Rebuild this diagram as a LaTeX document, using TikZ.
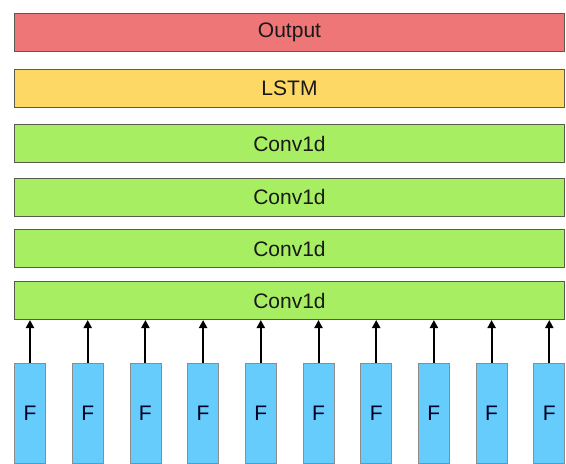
\documentclass[tikz,border=0pt]{standalone}
\usepackage{fontspec}
\setmainfont{Liberation Sans}
\usetikzlibrary{arrows.meta}
\definecolor{outred}{HTML}{EE7676}
\definecolor{lstmyel}{HTML}{FDD865}
\definecolor{convgrn}{HTML}{A8EE62}
\definecolor{fblue}{HTML}{66CCFB}
\definecolor{edgegray}{HTML}{5A5A4A}
\begin{document}
\begin{tikzpicture}[x=1pt,y=-1pt,
  layer/.style={draw=edgegray, line width=1pt, minimum width=550pt, minimum height=38pt, inner sep=0pt, font=\fontsize{21}{24}\selectfont, text=black!90},
  fbox/.style={draw=black!45, fill=fblue, line width=0.8pt, minimum width=31pt, minimum height=100pt, inner sep=0pt, font=\fontsize{21}{24}\selectfont, text=black!85!blue},
  arr/.style={-{Triangle[length=8pt,width=8pt]}, line width=2pt, black}]
\useasboundingbox (0,0) rectangle (566,464);
\node[layer, fill=outred] (out) at (289.5,32.5) {Output};
\node[layer, fill=lstmyel] (lstm) at (289.5,88.5) {LSTM};
\node[layer, fill=convgrn] (c1) at (289.5,143.5) {Conv1d};
\node[layer, fill=convgrn] (c2) at (289.5,197) {Conv1d};
\node[layer, fill=convgrn] (c3) at (289.5,248.5) {Conv1d};
\node[layer, fill=convgrn] (c4) at (289.5,300.5) {Conv1d};
\foreach \i in {0,...,9}{
  \node[fbox] (f\i) at ({30+\i*57.7},413) {F};
  \draw[arr] (f\i.north) -- (f\i.north |- c4.south);
}
\end{tikzpicture}
\end{document}
